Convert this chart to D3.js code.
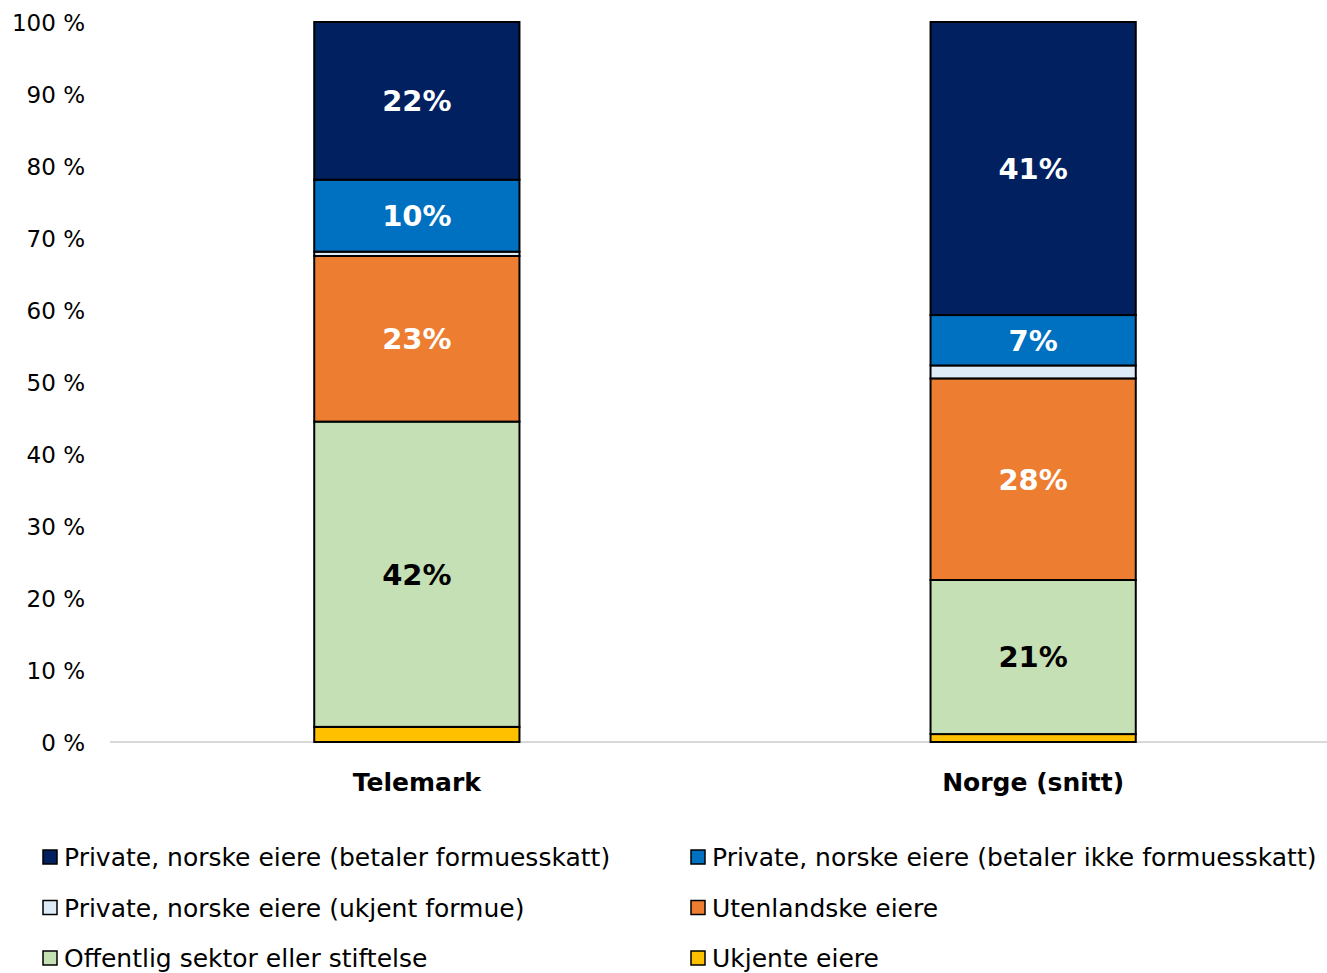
<!DOCTYPE html>
<html>
<head>
<meta charset="utf-8">
<script src="https://cdn.jsdelivr.net/npm/d3@7"></script>
<style>
  body { margin: 0; background: #fff; }
  text { font-family: "DejaVu Sans", sans-serif; }
</style>
</head>
<body>
<div id="canvas"></div>
<script>
var regions = ['Telemark', 'Norge (snitt)'];
var seriesNames = [
  'Ukjente eiere',
  'Offentlig sektor eller stiftelse',
  'Utenlandske eiere',
  'Private, norske eiere (ukjent formue)',
  'Private, norske eiere (betaler ikke formuesskatt)',
  'Private, norske eiere (betaler formuesskatt)'
];
var telemark = [2.1, 42.4, 23.0, 0.6, 10.0, 21.9];
var norge = [1.1, 21.4, 28.0, 1.8, 7.0, 40.7];
var colors = ['#FFC000', '#C5E0B4', '#ED7D31', '#DDEBF7', '#0070C0', '#002060'];
var labelColors = ['#fff', '#000', '#fff', '#fff', '#fff', '#fff'];
var yTicks = [0, 10, 20, 30, 40, 50, 60, 70, 80, 90, 100];
// legend order as in the picture (left col, right col)
var legendOrder = [5, 4, 3, 2, 1, 0];

var W = 1327, H = 973;
var svg = d3.select('#canvas').append('svg')
  .attr('width', W).attr('height', H);

var scaleY = d3.scaleLinear().domain([0, 100]).range([742, 22]);
var scaleX = d3.scaleBand().domain(regions).range([109, 1341])
  .paddingInner(0.667).paddingOuter(0.333);

// table for the stack
var table = regions.map(function(r, i) {
  var row = { region: r };
  var vals = i === 0 ? telemark : norge;
  seriesNames.forEach(function(s, j) { row[s] = vals[j]; });
  return row;
});
var stack = d3.stack().keys(seriesNames)(table);

// y axis
var axisY = d3.axisLeft(scaleY).tickValues(yTicks)
  .tickSize(0).tickPadding(0)
  .tickFormat(function(d) { return d + ' %'; });
var gy = svg.append('g').attr('transform', 'translate(85,0)').call(axisY);
gy.select('.domain').remove();
gy.selectAll('text').style('font-size', '23px').style('fill', '#000')
  .style('font-family', '"DejaVu Sans", sans-serif').attr('dy', '0.36em');

// baseline
svg.append('line').attr('x1', 110).attr('x2', 1327)
  .attr('y1', scaleY(0)).attr('y2', scaleY(0))
  .attr('stroke', '#d9d9d9').attr('stroke-width', 2);

var layers = svg.selectAll('g.layer').data(stack).enter()
  .append('g').attr('class', 'layer')
  .attr('fill', function(d, i) { return colors[i]; });

layers.selectAll('rect').data(function(d) { return d; }).enter()
  .append('rect')
  .attr('x', function(d) { return scaleX(d.data.region); })
  .attr('width', scaleX.bandwidth())
  .attr('y', function(d) { return scaleY(d[1]); })
  .attr('height', function(d) { return scaleY(d[0]) - scaleY(d[1]); })
  .attr('stroke', '#000').attr('stroke-width', 2);

// value labels (only big segments)
layers.each(function(layer, i) {
  d3.select(this).selectAll('text.val').data(layer).enter()
    .filter(function(d) { return d[1] - d[0] >= 5; })
    .append('text').attr('class', 'val')
    .attr('x', function(d) { return scaleX(d.data.region) + scaleX.bandwidth() / 2; })
    .attr('y', function(d) { return scaleY((d[0] + d[1]) / 2); })
    .attr('dy', '0.36em')
    .attr('text-anchor', 'middle')
    .style('font-size', '29px').style('font-weight', 'bold')
    .style('fill', labelColors[i])
    .text(function(d) { return Math.round(d[1] - d[0]) + '%'; });
});

// x axis labels
var axisX = d3.axisBottom(scaleX).tickSize(0).tickPadding(0);
var gx = svg.append('g').attr('transform', 'translate(0,782)').call(axisX);
gx.select('.domain').remove();
gx.selectAll('text').style('font-size', '25px').style('font-weight', 'bold')
  .style('fill', '#000').style('font-family', '"DejaVu Sans", sans-serif')
  .attr('y', 0).attr('dy', '0.36em');

// legend
var legend = svg.append('g');
legendOrder.forEach(function(k, i) {
  var col = i % 2, row = Math.floor(i / 2);
  var x = col === 0 ? 43 : 691;
  var y = 857 + row * 50.5;
  legend.append('rect').attr('x', x).attr('y', y - 7).attr('width', 14).attr('height', 14)
    .attr('fill', colors[k]).attr('stroke', '#000').attr('stroke-width', 1.5);
  legend.append('text').attr('x', x + 21).attr('y', y).attr('dy', '0.36em')
    .style('font-size', '25px').style('fill', '#000')
    .text(seriesNames[k]);
});
</script>
</body>
</html>
